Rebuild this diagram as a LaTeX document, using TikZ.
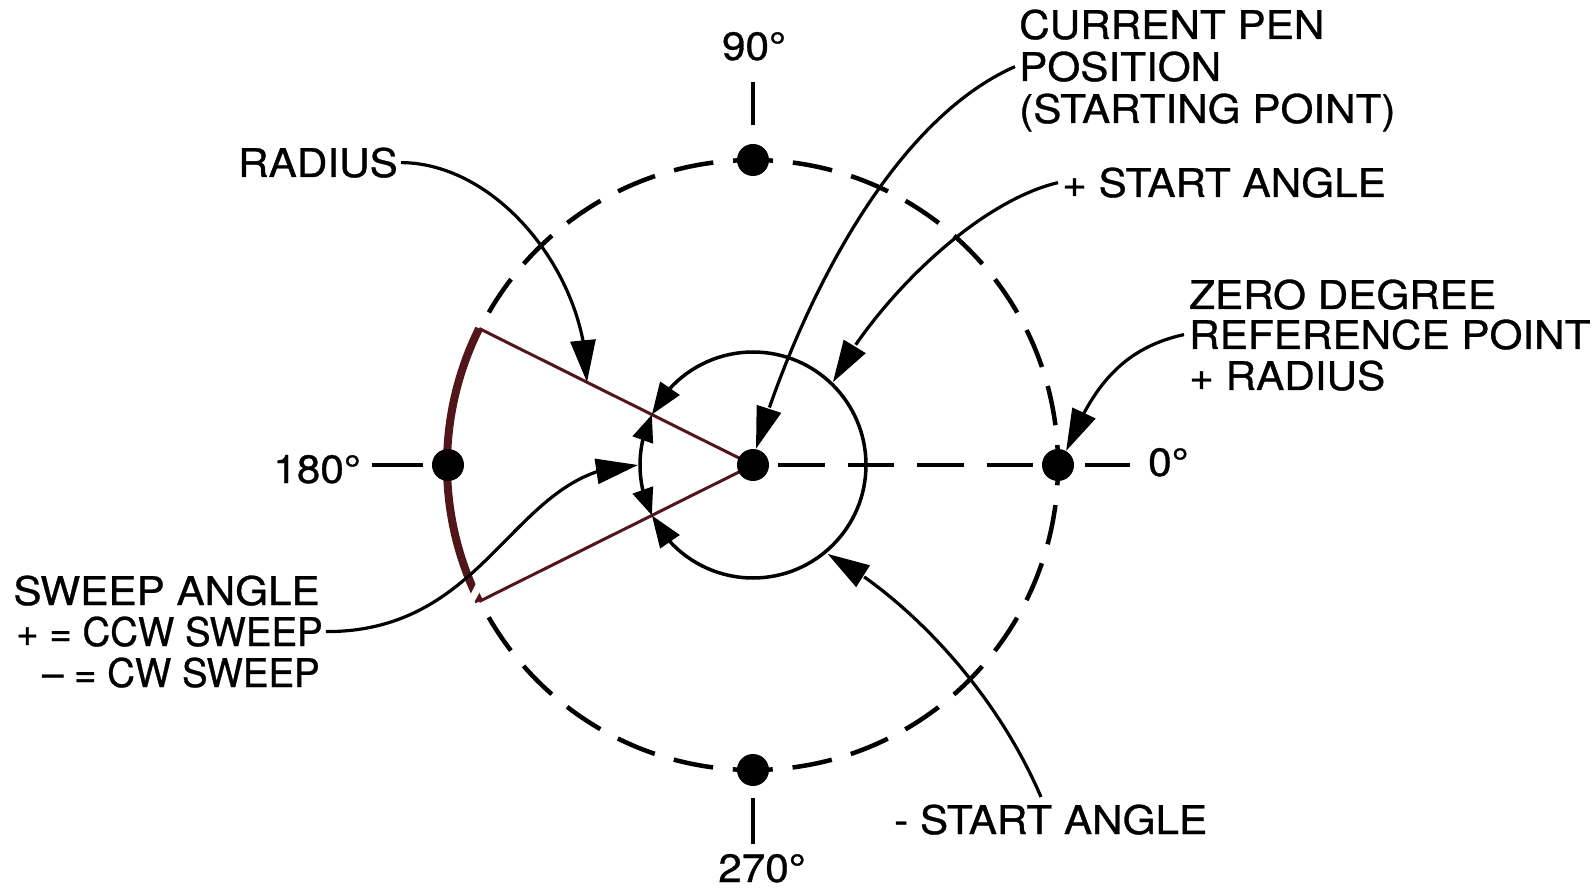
\documentclass[tikz,border=0pt]{standalone}
\usepackage{fontspec}
\setmainfont{TeX Gyre Heros}[FakeStretch=1.07,FakeBold=0.8]
\usetikzlibrary{arrows.meta,bending,calc}
\definecolor{sectorred}{RGB}{80,22,26}
\begin{document}
\begin{tikzpicture}[x=1pt,y=1pt,
  lbl/.style={inner sep=0pt, font=\fontsize{39.5}{42}\selectfont},
  dotnode/.style={circle, fill=black, inner sep=0pt, minimum size=32pt},
  lead/.style={line width=3.2pt, -{Triangle[length=42pt,width=25pt]}},
  halo/.style={white, line width=7pt},
  tickline/.style={line width=4pt},
  bigdash/.style={line width=4.5pt, dash pattern=on 40pt off 19.886pt, dash phase=20pt},
  raddash/.style={line width=4pt, dash pattern=on 46.5pt off 23pt},
  smallarc/.style={line width=3.5pt},
  thinsector/.style={sectorred, line width=3pt},
  thicksector/.style={sectorred, line width=8pt}]
\useasboundingbox (-753,-424) rectangle (840,465);

% dashed reference circle and zero-degree radius
\draw[bigdash] (0,0) circle[radius=305];
\draw[raddash] (25,0) -- (280,0);

% sector
\draw[thinsector] (153.5:306) -- (0,0) -- (206.5:306);
\draw[thicksector] (153.5:306) arc[start angle=153.5, end angle=206.5, radius=306];

% labels
\node[lbl, anchor=base] (l90) at (1,405) {90°};
\node[lbl, anchor=base] (l270) at (9,-417) {270°};
\node[lbl, anchor=base east] (l180) at (-392,-18) {180°};
\node[lbl, anchor=base west] (l0) at (395,-11) {0°};
\node[lbl, anchor=base east] (rad) at (-355,288) {RADIUS};
\node[lbl, anchor=base west] (penA) at (266,426) {CURRENT PEN};
\node[lbl, anchor=base west] (penB) at (266,384) {POSITION};
\node[lbl, anchor=base west] (penC) at (266,342) {(STARTING POINT)};
\node[lbl, anchor=base west] (psa) at (309,268) {+ START ANGLE};
\node[lbl, anchor=base west] (refA) at (436,156) {ZERO DEGREE};
\node[lbl, anchor=base west] (refB) at (436,116) {REFERENCE POINT};
\node[lbl, anchor=base west] (refC) at (436,75) {+ RADIUS};
\node[lbl, anchor=base east] (swA) at (-433,-140) {SWEEP ANGLE};
\node[lbl, anchor=base east] (swB) at (-430,-181) {\scalebox{0.91}[1]{+ = CCW SWEEP}};
\node[lbl, anchor=base east] (swC) at (-433,-222) {\scalebox{0.91}[1]{– = CW SWEEP}};
\node[lbl, anchor=base west] (msa) at (141,-369) {- START ANGLE};

% dots
\node[dotnode] (c) at (0,0) {};
\node[dotnode] (top) at (90:305) {};
\node[dotnode] (left) at (180:305) {};
\node[dotnode] (right) at (0:305) {};
\node[dotnode] (bot) at (270:305) {};

% ticks
\draw[tickline] (top.north) ++(0,19) -- ++(0,43);
\draw[tickline] (bot.south) ++(0,-12) -- ++(0,-46);
\draw[tickline] (left.west) ++(-9,0) -- ++(-51,0);
\draw[tickline] (right.east) ++(11,0) -- ++(45,0);

% arrow targets
\coordinate (radtip) at (153.5:185.5);
\coordinate (pentip) at ([xshift=3pt]c.north);
\coordinate (psatip) at (46:115);
\coordinate (msatip) at (-50:116);
\coordinate (reftip) at (right.60);
\coordinate (swtip) at (180:115);
\coordinate (msend) at (288,-332);

% sweep leader with white gap where it crosses the arc
\draw[halo, shorten <=100pt, shorten >=150pt] ([xshift=3pt]swB.east) .. controls (-260,-167) and (-240,0) .. (swtip);
\draw[lead] ([xshift=3pt]swB.east) .. controls (-260,-167) and (-240,0) .. (swtip);

% small circle with start and sweep arcs
\draw[smallarc, -{Triangle[length=32pt,width=23pt]}] (0:113) arc[start angle=0, end angle=153.5, radius=113];
\draw[smallarc, -{Triangle[length=32pt,width=23pt]}] (0:113) arc[start angle=0, end angle=-153.5, radius=113];
\draw[smallarc, {Triangle[length=27pt,width=21pt]}-{Triangle[length=27pt,width=21pt]}] (153.5:113) arc[start angle=153.5, end angle=206.5, radius=113];

% leaders
\draw[lead] ([xshift=3pt]rad.east) .. controls (-255,302) and (-165,190) .. (radtip);
\draw[lead] ([xshift=-4pt]penB.west) .. controls (130,340) and (40,140) .. (pentip);
\draw[lead] ([xshift=-4pt]psa.west) .. controls (220,262) and (120,160) .. (psatip);
\draw[lead] ([xshift=-5pt]refB.west) .. controls (360,115) and (335,65) .. (reftip);
\draw[lead] (msend) .. controls (240,-220) and (150,-130) .. (msatip);
\end{tikzpicture}
\end{document}
